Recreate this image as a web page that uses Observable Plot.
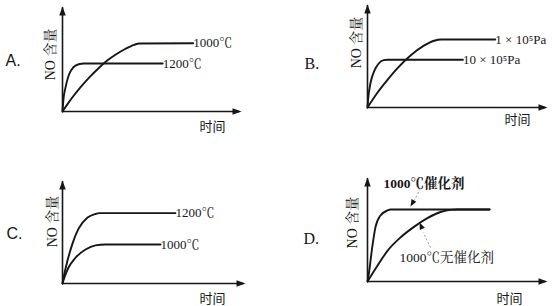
<!DOCTYPE html>
<html><head><meta charset="utf-8">
<script src="https://cdn.jsdelivr.net/npm/d3@7"></script>
<script src="https://cdn.jsdelivr.net/npm/@observablehq/plot@0.6"></script>
<style>
body{margin:0;background:#fff;}
#wrap{position:relative;width:553px;height:306px;overflow:hidden;background:#fff;}
</style></head><body><div id="wrap"></div>
<script>
// ---- data (time t, NO content v, both in 0..100 axis units) ----
const panelNames = ["A.", "B.", "C.", "D."];
const yLabel = "NO 含量";
const xLabel = "时间";

const tA1000 = [0, 3, 6, 10, 15, 20, 25, 30, 35, 40, 43, 73];
const vA1000 = [0, 7.5, 14.5, 23, 32.5, 41, 48.5, 54.5, 59.5, 63.5, 64.8, 65];
const tA1200 = [0, 0.5, 1.7, 3.4, 6, 9, 12, 56];
const vA1200 = [0, 11, 23, 34, 42, 45, 45.7, 45.7];
const labelsA = ["1000℃", "1200℃"];

const tB1 = [0, 5.6, 11.1, 16.7, 23.9, 31.1, 37, 41, 71];
const vB1 = [0, 14.6, 26.8, 38.2, 50.5, 59.8, 64.8, 66, 66];
const tB10 = [0, 0.3, 1.7, 3.9, 6.1, 9, 11, 53];
const vB10 = [0, 7, 24, 36, 42.5, 46, 46.3, 46.3];
const labelsB = ["1 × 10⁵Pa", "10 × 10⁵Pa"];

const tC1200 = [0, 0.5, 2.7, 5.5, 8.7, 13.7, 18, 20, 61.7];
const vC1200 = [0, 5, 22, 39, 53, 64, 67.5, 68.3, 68.3];
const tC1000 = [0, 0.5, 3.3, 7.1, 12.6, 18, 23.5, 53.6];
const vC1000 = [0, 3, 15.5, 25, 33, 37, 37.9, 37.9];
const labelsC = ["1200℃", "1000℃"];

const tDcat = [0, 0.6, 2.8, 4.4, 7.2, 11.1, 13, 67.8];
const vDcat = [0, 6, 35, 52, 63.5, 68.3, 69.2, 69.2];
const tDnone = [0, 5.6, 11.1, 18.3, 25.6, 33.3, 40.6, 46.1, 50, 67.8];
const vDnone = [0, 15.4, 29.5, 42.3, 52.3, 61, 66.8, 68.9, 69.2, 69.2];
const labelsD = ["1000℃催化剂", "1000℃无催化剂"];

// ---- helpers ----
const ink = "#161616";
const serif = '"Liberation Serif", "Noto Serif CJK SC", "Noto Sans CJK SC", serif';
const sans = '"Liberation Sans", "Noto Sans CJK SC", sans-serif';
const cjk = '"Noto Sans CJK SC", sans-serif';
const rows = (ts, vs) => ts.map((t, i) => ({t, v: vs[i]}));
const head = (L, W) => ({draw(ctx) { ctx.moveTo(0, 0); ctx.lineTo(W / 2, L); ctx.lineTo(-W / 2, L); ctx.closePath(); }});
const axisHead = head(9, 6.5);
const smallHead = head(7, 5.5);

function axisMarks() {
  return [
    Plot.ruleX([0], {y1: 0, y2: 99, stroke: ink, strokeWidth: 1.6}),
    Plot.ruleY([0], {x1: 0, x2: 99, stroke: ink, strokeWidth: 1.6}),
    Plot.dot([0], {x: 0, y: 100, symbol: axisHead, fill: ink, stroke: "none", r: 3}),
    Plot.dot([0], {x: 100, y: 0, symbol: axisHead, fill: ink, stroke: "none", r: 3, rotate: 90})
  ];
}
function curve(data, lbl, fs = 13) {
  const last = data[data.length - 1];
  return [
    Plot.line(data, {x: "t", y: "v", curve: "monotone-x", stroke: ink, strokeWidth: 1.9}),
    Plot.text([lbl], {x: last.t, y: last.v, text: d => d, textAnchor: "start", dx: 0, fontSize: fs, fontFamily: serif, fill: ink})
  ];
}
function labels(name, nameFont, lx, ly, yx, yy, tx, ty) {
  return [
    Plot.text([name], {x: lx, y: ly, text: d => d, textAnchor: "start", fontSize: 16, fontFamily: nameFont, fill: ink}),
    Plot.text([yLabel], {x: yx, y: yy, text: d => d, rotate: -90, fontSize: 14, fontFamily: serif, fill: ink}),
    Plot.text([xLabel], {x: tx, y: ty, text: d => d, fontSize: 13, fontFamily: cjk, fill: ink})
  ];
}
const wrap = document.getElementById("wrap");
function panel(left, top, ml, mr, mt, mb, marks) {
  const svg = Plot.plot({
    width: 276, height: 153,
    marginLeft: ml, marginRight: mr, marginTop: mt, marginBottom: mb,
    x: {domain: [0, 100], axis: null},
    y: {domain: [0, 100], axis: null},
    style: {background: "transparent", overflow: "visible"},
    marks: [...axisMarks(), ...marks]
  });
  svg.style.position = "absolute";
  svg.style.left = left + "px";
  svg.style.top = top + "px";
  wrap.append(svg);
}

// Panel A
panel(0, 0, 62, 35, 6, 42, [
  ...curve(rows(tA1000, vA1000), labelsA[0]),
  ...curve(rows(tA1200, vA1200), labelsA[1]),
  ...labels(panelNames[0], sans, -31.8, 48.6, -6.7, 54.3, 83.8, -14.3)
]);
// Panel B
panel(276, 0, 91, 5, 4, 46, [
  ...curve(rows(tB1, vB1), labelsB[0]),
  ...curve(rows(tB10, vB10), labelsB[1]),
  ...labels(panelNames[1], serif, -35, 42.7, -6.1, 63.1, 83.3, -11.7)
]);
// Panel C
panel(0, 153, 62, 31, 27, 23, [
  ...curve(rows(tC1200, vC1200), labelsC[0]),
  ...curve(rows(tC1000, vC1000), labelsC[1]),
  ...labels(panelNames[2], sans, -30.6, 48.5, -5.5, 60.2, 82, -14.6)
]);
// Panel D
panel(276, 153, 91, 5, 24, 25, [
  Plot.line(rows(tDcat, vDcat), {x: "t", y: "v", curve: "monotone-x", stroke: ink, strokeWidth: 1.9}),
  Plot.line(rows(tDnone, vDnone), {x: "t", y: "v", curve: "monotone-x", stroke: ink, strokeWidth: 1.9}),
  Plot.text([labelsD[0]], {x: 8.9, y: 94.2, text: d => d, textAnchor: "start", fontSize: 13.5, fontWeight: "bold", fontFamily: serif, fill: ink}),
  Plot.text([labelsD[1]], {x: 17.8, y: 23, text: d => d, textAnchor: "start", fontSize: 13.5, fontFamily: serif, fill: ink}),
  Plot.link([0], {x1: 29.4, y1: 89.4, x2: 26, y2: 78, stroke: "#999", strokeDasharray: "2,2", strokeWidth: 1}),
  Plot.dot([0], {x: 23.9, y: 72.1, symbol: smallHead, fill: ink, stroke: "none", r: 3, rotate: -151}),
  Plot.link([0], {x1: 35, y1: 32.7, x2: 31, y2: 47, stroke: "#999", strokeDasharray: "2,2", strokeWidth: 1}),
  Plot.dot([0], {x: 28.9, y: 56.7, symbol: smallHead, fill: ink, stroke: "none", r: 3, rotate: -24}),
  ...labels(panelNames[3], serif, -35.6, 41.3, -8.3, 56.7, 78.9, -16.3)
]);
</script></body></html>
